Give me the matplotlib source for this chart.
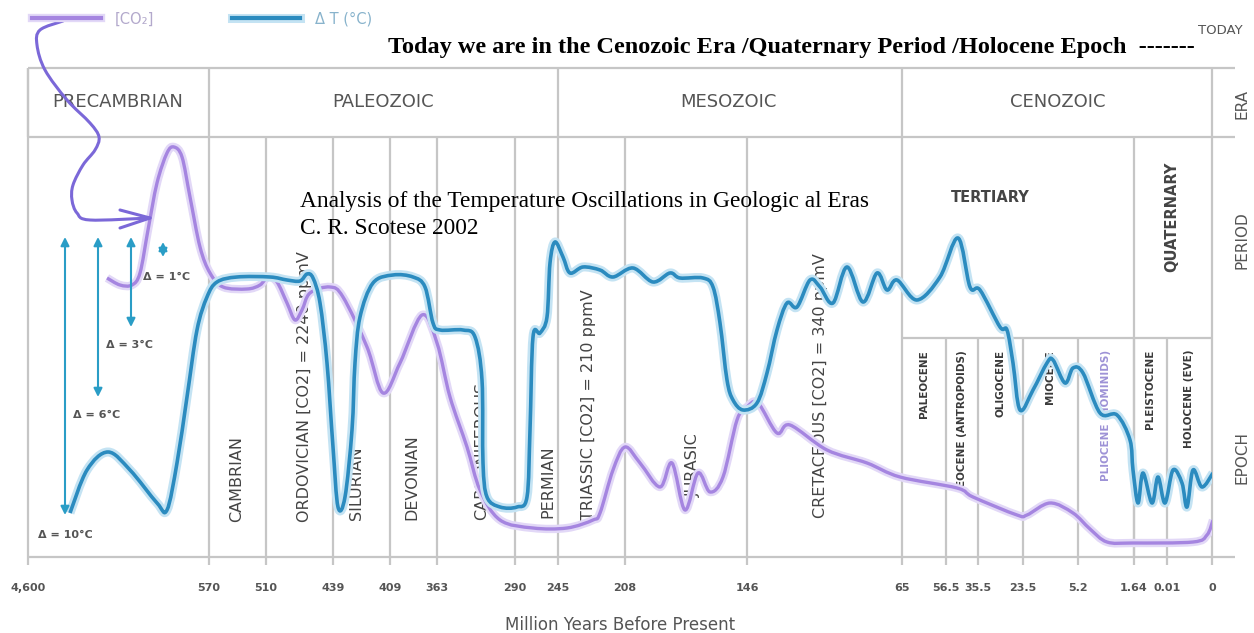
import matplotlib.pyplot as plt
import matplotlib.patheffects as pe
import numpy as np
from matplotlib.lines import Line2D
from matplotlib.patches import PathPatch
from matplotlib.path import Path

# ---------------------------------------------------------------------------
# Values.
# x: position along the (non-linear) time axis, 0 = 4,600 Ma ... 1184 = today
# y: relative level above the baseline (the source prints no y scale)
# ---------------------------------------------------------------------------
TICK_LABELS = ["4,600", "570", "510", "439", "409", "363", "290", "245", "208",
               "146", "65", "56.5", "35.5", "23.5", "5.2", "1.64", "0.01", "0"]
TICK_POS = [0, 181, 238, 305, 362, 409, 487, 530, 597, 719, 874, 918, 950, 995,
            1050, 1106, 1139, 1184]

ERAS = ["PRECAMBRIAN", "PALEOZOIC", "MESOZOIC", "CENOZOIC"]
ERA_EDGES = [0, 181, 530, 874, 1184]

PERIODS = ["CAMBRIAN", "ORDOVICIAN [CO2] = 2240 ppmV", "SILURIAN", "DEVONIAN",
           "CARBONIFEROUS", "PERMIAN", "TRIASSIC [CO2] = 210 ppmV", "JURASIC",
           "CRETACEOUS [CO2] = 340 ppmV"]
PERIOD_EDGES = [181, 238, 305, 362, 409, 487, 530, 597, 719, 874, 1106, 1184]

EPOCHS = ["PALEOCENE", "EOCENE (ANTROPOIDS)", "OLIGOCENE", "MIOCENE",
          "PLIOCENE (HOMINIDS)", "PLEISTOCENE", "HOLOCENE (EVE)"]
EPOCH_EDGES = [874, 918, 950, 995, 1050, 1106, 1139, 1184]

# Delta T (deg C) curve
TEMP_X = [42, 59, 80, 102, 129, 139, 149, 159, 169, 179, 189, 209, 242, 259, 272,
          279, 285, 292, 299, 305, 310, 317, 324, 327, 332, 345, 365, 385, 397,
          405, 412, 435, 447, 454, 455, 459, 472, 489, 499, 502, 505, 512, 519,
          522, 527, 535, 542, 555, 572, 585, 605, 625, 642, 652, 675, 685, 692,
          699, 705, 715, 729, 739, 749, 759, 769, 782, 792, 805, 819, 835, 849,
          859, 869, 889, 912, 930, 942, 952, 972, 979, 985, 992, 1005, 1019,
          1025, 1037, 1045, 1055, 1072, 1089, 1102, 1105, 1110, 1115, 1124,
          1130, 1137, 1145, 1154, 1159, 1165, 1174, 1185]
TEMP_Y = [44, 87, 105, 87, 54, 47, 94, 160, 227, 260, 275, 280, 280, 277, 276,
          283, 279, 254, 194, 110, 50, 60, 127, 194, 240, 274, 282, 280, 270,
          234, 227, 227, 220, 177, 94, 60, 50, 50, 60, 127, 220, 224, 240,
          294, 315, 300, 284, 290, 287, 280, 289, 275, 284, 279, 279, 270, 234,
          177, 157, 147, 154, 184, 227, 254, 250, 277, 270, 254, 290, 255, 284,
          267, 277, 257, 280, 319, 270, 267, 230, 227, 194, 147, 167, 194,
          197, 174, 189, 184, 144, 142, 117, 87, 54, 84, 54,
          80, 54, 87, 74, 50, 87, 70, 84]

# [CO2] curve
CO2_X = [79, 92, 104, 112, 120, 129, 139, 146, 154, 162, 172, 182, 195, 219,
         232, 240, 249, 259, 267, 274, 282, 302, 315, 339, 355, 372, 394, 409,
         422, 439, 452, 472, 505, 539, 565, 572, 585, 597, 612, 632, 644, 657,
         670, 682, 695, 709, 719, 730, 749, 762, 799, 839, 872, 929, 945, 989,
         999, 1022, 1045, 1062, 1079, 1105, 1165, 1179, 1185]
CO2_Y = [279, 272, 272, 284, 327, 374, 404, 410, 400, 360, 310, 284, 270, 268,
         272, 280, 275, 254, 237, 247, 264, 270, 260, 210, 164, 194, 242, 214,
         160, 110, 67, 37, 29, 29, 37, 44, 87, 110, 94, 70, 94, 47,
         84, 65, 80, 137, 150, 154, 124, 132, 107, 94, 80, 69, 60, 42,
         42, 54, 44, 28, 15, 14, 15, 22, 37]

# hand-drawn pointer from the legend to the CO2 curve
POINTER_X = [35, 12, 9, 17, 39, 62, 71, 67, 55, 45, 44, 49, 62, 122]
POINTER_Y = [536, 527, 512, 487, 457, 434, 420, 407, 392, 372, 357, 344, 337, 339]

DELTA_LABELS = ["Δ = 10°C", "Δ = 6°C", "Δ = 3°C", "Δ = 1°C"]
DELTA_X = [37, 70, 103, 135]
DELTA_TOP = [320, 320, 320, 315]
DELTA_BOTTOM = [42, 160, 230, 300]

# ---------------------------------------------------------------------------
# Layout / style
# ---------------------------------------------------------------------------
TOP, ERA_ROW, EPOCH_ROW = 489, 420, 219
RIGHT_EXT = 1207
GRID = "#c6c6c6"
TXT = "#555555"
BLUE = "#2b8bbf"
PURPLE = "#a585e0"
POINTER = "#7b68d8"

PERIOD_LABEL_X = [209, 277, 329, 384, 454, 520, 560, 665, 792]
PERIOD_LABEL_Y = [35, 35, 37, 37, 37, 39, 37, 60, 39]
ERA_LABEL_X = [90, 355, 700, 1030]
DELTA_LABEL_XY = [(37, 22), (69, 142), (102, 212), (139, 280)]


def smooth_path(xs, ys):
    """Bezier path through the points (Catmull-Rom tangents)."""
    p = np.column_stack([xs, ys]).astype(float)
    ext = np.vstack([p[0], p, p[-1]])
    verts, codes = [p[0]], [Path.MOVETO]
    for i in range(len(p) - 1):
        p0, p1, p2, p3 = ext[i], ext[i + 1], ext[i + 2], ext[i + 3]
        verts += [p1 + (p2 - p0) / 6, p2 - (p3 - p1) / 6, p2]
        codes += [Path.CURVE4] * 3
    return Path(verts, codes)


fig = plt.figure(figsize=(12.54, 6.33), dpi=100)
ax = fig.add_axes([28 / 1254, 76 / 633, 1184 / 1254, 489 / 633])
ax.set_xlim(0, 1184)
ax.set_ylim(0, TOP)
for s in ax.spines.values():
    s.set_visible(False)
ax.set_yticks([])

# table / grid lines
kw = dict(color=GRID, lw=1.6, clip_on=False, zorder=1)
ax.hlines([0, ERA_ROW, TOP], 0, RIGHT_EXT, **kw)
ax.hlines(EPOCH_ROW, EPOCH_EDGES[0], EPOCH_EDGES[-1], **kw)
ax.vlines(ERA_EDGES, ERA_ROW, TOP, **kw)
ax.vlines([0], 0, TOP, **kw)
ax.vlines(PERIOD_EDGES, 0, ERA_ROW, **kw)
ax.vlines(EPOCH_EDGES[1:-1], 0, EPOCH_ROW, **kw)

ax.set_xticks(TICK_POS, TICK_LABELS)
ax.tick_params(axis="x", length=6, width=1.6, color=GRID, pad=13,
               labelsize=8, labelcolor=TXT)
for lbl in ax.get_xticklabels():
    lbl.set_fontweight("bold")
ax.set_xlabel("Million Years Before Present", fontsize=12, color=TXT, labelpad=16)

# era / period / epoch labels
for name, x in zip(ERAS, ERA_LABEL_X):
    ax.text(x, 455, name, ha="center", va="center", fontsize=13, color=TXT, zorder=2)
for name, x, y in zip(PERIODS, PERIOD_LABEL_X, PERIOD_LABEL_Y):
    ax.text(x, y, name, rotation=90, ha="center", va="bottom", fontsize=11.5,
            color="#444444", zorder=2)
for i, name in enumerate(EPOCHS):
    xm = (EPOCH_EDGES[i] + EPOCH_EDGES[i + 1]) / 2
    col = "#9d92d6" if name.startswith("PLIOCENE") else "#3a3a3a"
    ax.text(xm, 207, name, rotation=90, ha="center", va="top", fontsize=7.5,
            fontweight="bold", color=col, zorder=2)
ax.text(962, 360, "TERTIARY", ha="center", va="center", fontsize=10.5,
        fontweight="bold", color="#444444")
ax.text(1144, 340, "QUATERNARY", rotation=90, ha="center", va="center",
        fontsize=10.5, fontweight="bold", color="#444444")
for name, y in zip(["ERA", "PERIOD", "EPOCH"], [453, 317, 100]):
    ax.text(1214, y, name, rotation=90, ha="center", va="center", fontsize=11,
            color=TXT, clip_on=False)

# curves
glow_p = [pe.Stroke(linewidth=6, foreground="#e2d8f7"), pe.Normal()]
glow_b = [pe.Stroke(linewidth=6.5, foreground="#c4e3f3"), pe.Normal()]
ax.add_patch(PathPatch(smooth_path(CO2_X, CO2_Y), facecolor="none",
                       edgecolor=PURPLE, lw=2.4, joinstyle="round",
                       path_effects=glow_p, zorder=3))
ax.add_patch(PathPatch(smooth_path(TEMP_X, TEMP_Y), facecolor="none",
                       edgecolor=BLUE, lw=2.6, joinstyle="round",
                       path_effects=glow_b, zorder=4))

# hand-drawn pointer
ax.add_patch(PathPatch(smooth_path(POINTER_X, POINTER_Y), facecolor="none",
                       edgecolor=POINTER, lw=2.2, capstyle="round",
                       clip_on=False, zorder=5))
ax.plot([92, 122, 92], [347, 339, 329], color=POINTER, lw=2.2, clip_on=False,
        zorder=5, solid_joinstyle="round", solid_capstyle="round")

# delta arrows
for x, y0, y1 in zip(DELTA_X, DELTA_TOP, DELTA_BOTTOM):
    ax.annotate("", xy=(x, y1), xytext=(x, y0),
                arrowprops=dict(arrowstyle="<|-|>,head_length=0.5,head_width=0.25",
                                color="#2a9dc6", lw=1.5, shrinkA=0, shrinkB=0),
                zorder=5)
for lab, (x, y) in zip(DELTA_LABELS, DELTA_LABEL_XY):
    ax.text(x, y, lab, ha="center", va="center", fontsize=8, fontweight="bold",
            color=TXT, zorder=6)

# subtitle
ax.text(272, 355, "Analysis of the Temperature Oscillations in Geologic al Eras",
        ha="left", va="center", fontsize=16.8, family="Liberation Serif", zorder=6)
ax.text(272, 329, "C. R. Scotese 2002", ha="left", va="center", fontsize=16.8,
        family="Liberation Serif", zorder=6)

# legend
h_co2 = Line2D([], [], color=PURPLE, lw=3, path_effects=glow_p)
h_t = Line2D([], [], color=BLUE, lw=3, path_effects=glow_b)
leg = fig.legend(handles=[h_co2, h_t], labels=["[CO₂]", "Δ T (°C)"],
                 loc="center left", bbox_to_anchor=(32 / 1254, 1 - 19 / 633),
                 ncol=2, frameon=False, handlelength=4.7, handletextpad=1.0,
                 columnspacing=5.3, borderpad=0, borderaxespad=0, fontsize=10.5)
for t, c in zip(leg.get_texts(), ["#b3a9cc", "#88b3cc"]):
    t.set_color(c)

fig.text(791 / 1254, 1 - 47 / 633,
         "Today we are in the Cenozoic Era /Quaternary Period /Holocene Epoch  -------",
         ha="center", va="center", fontsize=17.5, fontweight="bold",
         family="Liberation Serif")
fig.text(1220 / 1254, 1 - 31 / 633, "TODAY", ha="center", va="center",
         fontsize=9.5, color=TXT)

fig.savefig("out.png", dpi=100)
